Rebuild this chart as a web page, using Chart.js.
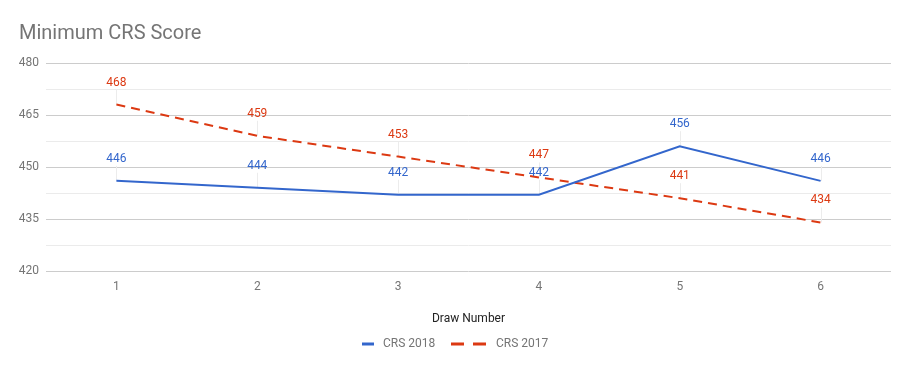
<!DOCTYPE html>
<html>
<head>
<meta charset="utf-8">
<script src="https://cdn.jsdelivr.net/npm/chart.js@4"></script>
<style>
  html, body { margin: 0; padding: 0; background: #fff; }
  #wrap { width: 910px; height: 371px; }
</style>
</head>
<body>
<div id="wrap"><canvas id="chart" width="910" height="371"></canvas></div>
<script>
// values
const draws = ['1', '2', '3', '4', '5', '6'];
const crs2018 = [446, 444, 442, 442, 456, 446];
const crs2017 = [468, 459, 453, 447, 441, 434];
const yTickLabels = [420, 435, 450, 465, 480];

const BLUE = '#3366cc';
const RED = '#dc3912';
const FONT = 'Roboto';

// little value labels above each point, with a faint leader line
const pointLabels = {
  id: 'pointLabels',
  beforeDatasetsDraw(chart) {
    const ctx = chart.ctx;
    ctx.save();
    ctx.strokeStyle = '#ececec';
    ctx.lineWidth = 1;
    chart.data.datasets.forEach((ds, i) => {
      chart.getDatasetMeta(i).data.forEach(pt => {
        ctx.beginPath();
        ctx.moveTo(Math.round(pt.x) + 0.5, pt.y - 15);
        ctx.lineTo(Math.round(pt.x) + 0.5, pt.y);
        ctx.stroke();
      });
    });
    ctx.restore();
  },
  afterDatasetsDraw(chart) {
    const ctx = chart.ctx;
    ctx.save();
    ctx.font = '12px ' + FONT;
    ctx.textAlign = 'center';
    ctx.textBaseline = 'middle';
    chart.data.datasets.forEach((ds, i) => {
      ctx.fillStyle = ds.borderColor;
      chart.getDatasetMeta(i).data.forEach((pt, j) => {
        ctx.fillText(String(ds.data[j]), pt.x, pt.y - 22);
      });
    });
    ctx.restore();
  }
};

// legend at the bottom with a solid and a dashed line sample
const lineLegend = {
  id: 'lineLegend',
  afterDraw(chart) {
    const ctx = chart.ctx;
    const items = [
      { ds: chart.data.datasets[0], x: 362, w: 12 },
      { ds: chart.data.datasets[1], x: 451, w: 36 }
    ];
    const y = 344;
    ctx.save();
    ctx.font = '12px ' + FONT;
    ctx.textBaseline = 'middle';
    items.forEach(it => {
      ctx.strokeStyle = it.ds.borderColor;
      ctx.lineWidth = 3;
      ctx.setLineDash(it.ds.borderDash && it.ds.borderDash.length ? [13, 9] : []);
      ctx.beginPath();
      ctx.moveTo(it.x, y);
      ctx.lineTo(it.x + it.w, y);
      ctx.stroke();
      ctx.setLineDash([]);
      ctx.fillStyle = '#757575';
      ctx.fillText(it.ds.label, it.x + it.w + 9, y);
    });
    ctx.restore();
  }
};

new Chart(document.getElementById('chart'), {
  type: 'line',
  data: {
    labels: draws,
    datasets: [{
      label: 'CRS 2018',
      data: crs2018,
      borderColor: BLUE,
      backgroundColor: BLUE,
      borderWidth: 2,
      borderDash: [],
      pointRadius: 0,
      tension: 0
    }, {
      label: 'CRS 2017',
      data: crs2017,
      borderColor: RED,
      backgroundColor: RED,
      borderWidth: 2,
      borderDash: [9, 6],
      pointRadius: 0,
      tension: 0
    }]
  },
  options: {
    responsive: false,
    animation: false,
    layout: { padding: { left: 19, right: 19, top: 0, bottom: 40 } },
    plugins: {
      legend: { display: false },
      tooltip: { enabled: false },
      title: {
        display: true,
        text: 'Minimum CRS Score',
        align: 'start',
        color: '#757575',
        font: { family: FONT, size: 20, weight: 'normal' },
        padding: { top: 22, bottom: 17 }
      }
    },
    scales: {
      x: {
        offset: true,
        grid: { display: false },
        border: { display: false },
        ticks: { color: '#757575', font: { family: FONT, size: 12 }, padding: 1 },
        title: {
          display: true,
          text: 'Draw Number',
          color: '#222',
          font: { family: FONT, size: 12 },
          padding: { top: 0, bottom: 5 }
        },
        afterFit(scale) { scale.height = 60; }
      },
      y: {
        min: 420,
        max: 480,
        grid: {
          drawTicks: false,
          color: c => (c.tick && c.tick.value % 15 === 0) ? '#cccccc' : '#ebebeb'
        },
        border: { display: false },
        ticks: {
          stepSize: 7.5,
          padding: 7,
          color: '#757575',
          font: { family: FONT, size: 12 },
          callback: v => yTickLabels.includes(v) ? String(v) : ''
        },
        afterFit(scale) { scale.width = 27; }
      }
    }
  },
  plugins: [pointLabels, lineLegend]
});
</script>
</body>
</html>
